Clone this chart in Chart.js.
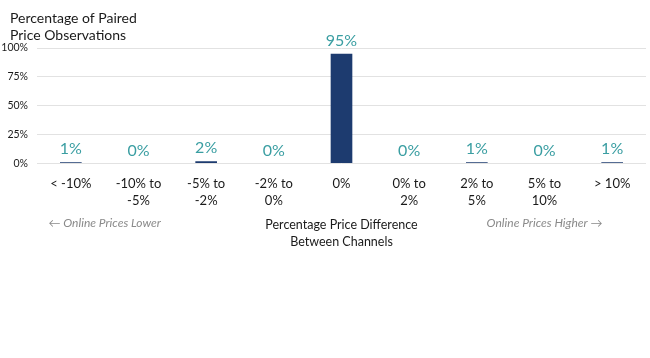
<!DOCTYPE html>
<html>
<head>
<meta charset="utf-8">
<script src="https://cdn.jsdelivr.net/npm/chart.js@4/dist/chart.umd.min.js"></script>
<style>
html,body{margin:0;padding:0;background:#fff;}
#wrap{width:650px;height:358px;position:relative;}
</style>
</head>
<body>
<div id="wrap"><canvas id="c" width="650" height="358"></canvas></div>
<script>
const categories = [
  ['< -10%'], ['-10% to', '-5%'], ['-5% to', '-2%'], ['-2% to', '0%'], ['0%'],
  ['0% to', '2%'], ['2% to', '5%'], ['5% to', '10%'], ['> 10%']
];
const shares = [1, 0, 2, 0, 95, 0, 1, 0, 1];
const yTicks = [0, 25, 50, 75, 100];
const chartTitle = ['Percentage of Paired', 'Price Observations'];
const xTitle = ['Percentage Price Difference', 'Between Channels'];
const sideLeft = '\u2190 Online Prices Lower';
const sideRight = 'Online Prices Higher \u2192';

const FONT = 'Lato, "Open Sans", sans-serif';
const labelColor = '#3a9ea2';

const extras = {
  id: 'extras',
  afterDatasetsDraw(chart) {
    const ctx = chart.ctx;
    const meta = chart.getDatasetMeta(0);
    ctx.save();
    ctx.font = '16px ' + FONT;
    ctx.fillStyle = labelColor;
    ctx.textAlign = 'center';
    ctx.textBaseline = 'bottom';
    meta.data.forEach((bar, i) => {
      ctx.fillText(shares[i] + '%', bar.x, bar.y - 5);
    });
    ctx.restore();
  },
  afterDraw(chart) {
    const ctx = chart.ctx;
    const xs = chart.scales.x;
    const area = chart.chartArea;
    ctx.save();
    ctx.font = '14px ' + FONT;
    ctx.fillStyle = '#1a1a1a';
    ctx.textAlign = 'left';
    ctx.textBaseline = 'middle';
    chartTitle.forEach((t, i) => ctx.fillText(t, 10, 18 + i * 17));
    const y = area.bottom + 60;
    ctx.font = 'italic 12px ' + FONT;
    ctx.fillStyle = '#8a8a8a';
    ctx.textAlign = 'center';
    ctx.fillText(sideLeft, xs.getPixelForValue(0.5), y);
    ctx.fillText(sideRight, xs.getPixelForValue(7), y);
    ctx.restore();
  }
};

new Chart(document.getElementById('c'), {
  type: 'bar',
  data: {
    labels: categories,
    datasets: [{
      data: shares,
      backgroundColor: '#1d3b6f',
      barPercentage: 0.64,
      categoryPercentage: 0.5
    }]
  },
  options: {
    responsive: false,
    animation: false,
    layout: { padding: { left: 1, right: 4, top: 48, bottom: 108 } },
    plugins: {
      legend: { display: false },
      tooltip: { enabled: false },
      title: { display: false }
    },
    scales: {
      x: {
        grid: { display: false, drawTicks: false },
        border: { display: false },
        ticks: {
          color: '#1a1a1a',
          font: { family: FONT, size: 13, lineHeight: 1.3 },
          maxRotation: 0,
          autoSkip: false,
          padding: 12
        },
        title: {
          display: true,
          text: xTitle,
          color: '#1a1a1a',
          font: { family: FONT, size: 12.5, lineHeight: 1.35 },
          padding: { top: -5, bottom: 0 }
        }
      },
      y: {
        min: 0,
        max: 100,
        afterBuildTicks(axis) { axis.ticks = yTicks.map(v => ({ value: v })); },
        afterFit(axis) { axis.width = 36; },
        grid: { color: '#e2e2e2', drawTicks: false, lineWidth: 1 },
        border: { display: false },
        ticks: {
          color: '#1a1a1a',
          font: { family: FONT, size: 10.5 },
          padding: 9,
          callback: v => v + '%'
        }
      }
    }
  },
  plugins: [extras]
});
</script>
</body>
</html>
